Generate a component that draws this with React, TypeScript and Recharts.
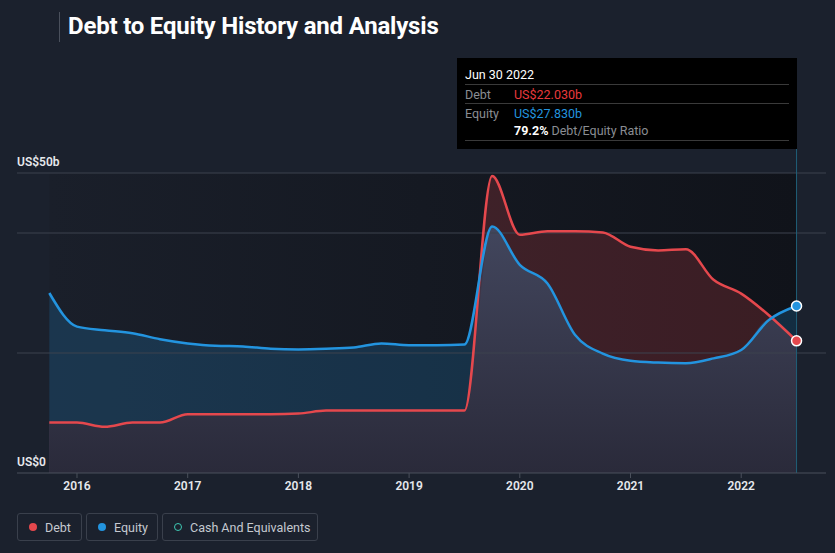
import React from "react";
import {
  ComposedChart,
  Area,
  Line,
  XAxis,
  YAxis,
  ReferenceLine,
  ReferenceArea,
} from "recharts";

// Quarter ends (decimal years)
const quarters = [
  2015.75, 2016.0, 2016.25, 2016.5, 2016.75, 2017.0, 2017.25, 2017.5, 2017.75,
  2018.0, 2018.25, 2018.5, 2018.75, 2019.0, 2019.25, 2019.5, 2019.75, 2020.0,
  2020.25, 2020.5, 2020.75, 2021.0, 2021.25, 2021.5, 2021.75, 2022.0, 2022.25,
  2022.5,
];
// Debt (US$ billions)
const debt = [
  8.4, 8.4, 7.7, 8.4, 8.4, 9.8, 9.8, 9.8, 9.8, 9.9, 10.4, 10.4, 10.4, 10.4,
  10.4, 10.4, 49.5, 39.7, 40.3, 40.3, 40.1, 37.7, 37.1, 37.3, 32.2, 29.9, 26.3,
  22.03,
];
// Equity (US$ billions)
const equity = [
  30.0, 24.4, 23.8, 23.3, 22.3, 21.6, 21.2, 21.1, 20.7, 20.6, 20.7, 20.9, 21.6,
  21.3, 21.3, 21.4, 41.1, 34.7, 31.6, 23.0, 19.9, 18.7, 18.4, 18.3, 19.1, 20.5,
  25.5, 27.83,
];
const xTicks = [2016, 2017, 2018, 2019, 2020, 2021, 2022];
const yLabelValues = [0, 50];
const yLabelTexts = ["US$0", "US$50b"];
const gridValues = [50, 40, 20];
const lastDateLabel = "Jun 30 2022";

const data = quarters.map((q, i) => ({
  q,
  debt: debt[i],
  equity: equity[i],
  low: Math.min(debt[i], equity[i]),
}));
const last = data.length - 1;

const DEBT = "#e5484d";
const EQUITY = "#2394df";
const FONT = "Roboto, 'Noto Sans', sans-serif";

const endDot = (color: string) => (props: any) => {
  const { cx, cy, index } = props;
  if (index !== last) return <g key={`d${index}`} />;
  return (
    <circle
      key={`d${index}`}
      cx={cx}
      cy={cy}
      r={5}
      fill={color}
      stroke="#ffffff"
      strokeWidth={1.5}
    />
  );
};

const yLabel = (text: string) => (props: any) => {
  const vb = props.viewBox || {};
  return (
    <text
      x={vb.x}
      y={vb.y - 7}
      fill="#e6e8ec"
      fontSize={12}
      fontWeight={600}
      fontFamily={FONT}
      textAnchor="start"
    >
      {text}
    </text>
  );
};

const XTick = (props: any) => {
  const { x, y, payload } = props;
  return (
    <text
      x={x}
      y={y + 10}
      fill="#e6e8ec"
      fontSize={12}
      fontWeight={600}
      fontFamily={FONT}
      textAnchor="middle"
    >
      {payload.value}
    </text>
  );
};

const ratio = ((debt[last] / equity[last]) * 100).toFixed(1);

export default function App() {
  return (
    <div
      style={{
        position: "absolute",
        left: 0,
        top: 0,
        width: 835,
        height: 553,
        background: "#1b212d",
        fontFamily: FONT,
        overflow: "hidden",
      }}
    >
      {/* Title */}
      <div
        style={{
          position: "absolute",
          left: 59,
          top: 12,
          width: 1,
          height: 30,
          background: "#4a505c",
        }}
      />
      <div
        style={{
          position: "absolute",
          left: 68,
          top: 12,
          color: "#ffffff",
          fontSize: 24,
          fontWeight: 700,
          letterSpacing: -0.2,
        }}
      >
        Debt to Equity History and Analysis
      </div>

      <div style={{ position: "absolute", left: 0, top: 0 }}>
        <ComposedChart
          width={835}
          height={553}
          data={data}
          margin={{ top: 149, right: 9, bottom: 50, left: 17 }}
        >
          <defs>
            <linearGradient id="plotBg" x1="0" y1="0" x2="1" y2="0">
              <stop offset="0%" stopColor="#1a1f2a" />
              <stop offset="100%" stopColor="#10131a" />
            </linearGradient>
            <linearGradient id="lowFill" x1="0" y1="0" x2="0" y2="1">
              <stop offset="0%" stopColor="#42465d" />
              <stop offset="100%" stopColor="#2a2a3a" />
            </linearGradient>
          </defs>
          <XAxis
            dataKey="q"
            type="number"
            domain={[2015.458, 2022.766]}
            ticks={xTicks}
            allowDataOverflow
            height={30}
            stroke="#4a505c"
            tickLine={{ stroke: "#4a505c" }}
            tickSize={5}
            tick={<XTick />}
          />
          <YAxis
            type="number"
            domain={[0, 54]}
            width={0}
            hide
          />
          <ReferenceArea
            x1={quarters[0]}
            x2={quarters[last]}
            y1={0}
            y2={50}
            fill="url(#plotBg)"
            fillOpacity={1}
            stroke="none"
          />
          <Area
            type="monotone"
            dataKey="equity"
            stroke="none"
            fill={EQUITY}
            fillOpacity={0.2}
            isAnimationActive={false}
          />
          <Area
            type="monotone"
            dataKey="debt"
            stroke="none"
            fill={DEBT}
            fillOpacity={0.2}
            isAnimationActive={false}
          />
          <Area
            type="monotone"
            dataKey="low"
            stroke="none"
            fill="url(#lowFill)"
            fillOpacity={1}
            isAnimationActive={false}
          />
          {gridValues.map((v) => (
            <ReferenceLine key={v} y={v} stroke="#3c424e" strokeWidth={1} />
          ))}
          {yLabelValues.map((v, i) => (
            <ReferenceLine
              key={`l${v}`}
              y={v}
              stroke="none"
              label={yLabel(yLabelTexts[i])}
            />
          ))}
          <ReferenceLine x={quarters[last]} stroke="#1f5f78" strokeWidth={1} />
          <Line
            type="monotone"
            dataKey="debt"
            stroke={DEBT}
            strokeWidth={2.5}
            dot={endDot(DEBT)}
            activeDot={false}
            isAnimationActive={false}
          />
          <Line
            type="monotone"
            dataKey="equity"
            stroke={EQUITY}
            strokeWidth={2.5}
            dot={endDot(EQUITY)}
            activeDot={false}
            isAnimationActive={false}
          />
        </ComposedChart>
      </div>

      {/* Tooltip box */}
      <div
        style={{
          position: "absolute",
          left: 457,
          top: 58,
          width: 340,
          height: 91,
          background: "#000000",
          fontSize: 12.5,
        }}
      >
        <div style={{ position: "absolute", left: 8, top: 9, color: "#ffffff" }}>
          {lastDateLabel}
        </div>
        <div style={{ position: "absolute", left: 8, right: 8, top: 26, height: 1, background: "#3a3a3a" }} />
        <div style={{ position: "absolute", left: 8, top: 29, color: "#8a8d93" }}>Debt</div>
        <div style={{ position: "absolute", left: 57, top: 29, color: "#e8393c" }}>
          US${debt[last].toFixed(3)}b
        </div>
        <div style={{ position: "absolute", left: 8, right: 8, top: 45, height: 1, background: "#3a3a3a" }} />
        <div style={{ position: "absolute", left: 8, top: 48, color: "#8a8d93" }}>Equity</div>
        <div style={{ position: "absolute", left: 57, top: 48, color: "#2394df" }}>
          US${equity[last].toFixed(3)}b
        </div>
        <div style={{ position: "absolute", left: 57, top: 65, color: "#8a8d93" }}>
          <span style={{ color: "#ffffff", fontWeight: 700 }}>{ratio}%</span> Debt/Equity Ratio
        </div>
        <div style={{ position: "absolute", left: 8, right: 8, top: 82, height: 1, background: "#3a3a3a" }} />
      </div>

      {/* Legend */}
      {[
        { label: "Debt", color: DEBT, hollow: false, left: 17, width: 65 },
        { label: "Equity", color: EQUITY, hollow: false, left: 86, width: 72 },
        { label: "Cash And Equivalents", color: "#3ec9b4", hollow: true, left: 162, width: 156 },
      ].map((it) => (
        <div
          key={it.label}
          style={{
            position: "absolute",
            left: it.left,
            top: 513,
            width: it.width,
            height: 28,
            boxSizing: "border-box",
            border: "1px solid #3a404c",
            borderRadius: 3,
            display: "flex",
            alignItems: "center",
            paddingLeft: 11,
            color: "#c5c9d0",
            fontSize: 12.5,
          }}
        >
          <span
            style={{
              display: "inline-block",
              width: 8,
              height: 8,
              borderRadius: "50%",
              boxSizing: "border-box",
              background: it.hollow ? "transparent" : it.color,
              border: it.hollow ? `1px solid ${it.color}` : "none",
              marginRight: 8,
            }}
          />
          {it.label}
        </div>
      ))}
    </div>
  );
}
